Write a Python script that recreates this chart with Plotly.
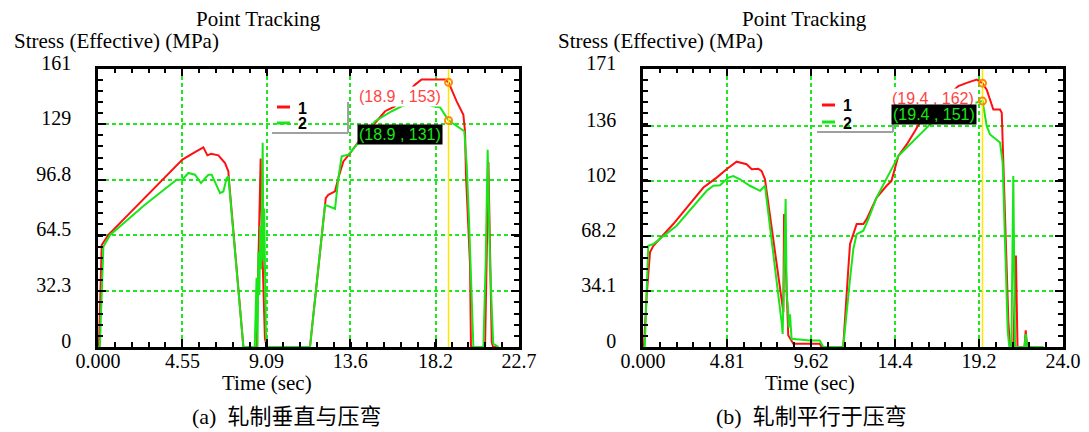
import plotly.graph_objects as go

# ---------------- data ----------------
# Panel (a): rolling direction perpendicular to bending
T_A1 = [0, 0.05, 0.2, 0.56, 1.5, 3.0, 4.0, 4.55, 5.23, 5.68, 5.9, 6.1, 6.49, 6.85, 7.03, 7.06,
        7.84, 8.55, 8.77, 8.85, 9.0, 9.1, 11.43, 12.28, 12.42, 12.78, 12.96, 13.23, 13.59,
        14.13, 14.94, 15.48, 16.0, 16.5, 17.1, 17.45, 18.71, 18.9, 19.07, 19.34, 19.7, 19.79,
        19.84, 20.06, 20.11, 20.87, 21.05, 21.23, 21.3, 21.5]
S_A1 = [0, 0, 59, 64.8, 75.1, 91.5, 102.2, 108.3, 112.7, 115.4, 110.8, 111.7, 110.8, 106.3, 101.5, 96.7,
        0, 0, 109, 60, 5, 0, 0, 86.1, 88, 90, 97.7, 107.3, 112,
        119.9, 129.5, 136.3, 139.1, 145, 151.7, 154.6, 154.6, 153, 148.8, 142, 134.3, 124.7,
        99.6, 47.5, 0, 0, 107, 3, 0, 0]

T_A2 = [0, 0.1, 0.29, 0.65, 2.53, 4.24, 4.55, 4.87, 5.23, 5.55, 5.95, 6.13, 6.58, 6.76, 6.94, 7.03,
        7.84, 8.45, 8.55, 8.6, 8.65, 8.7, 8.75, 8.8, 8.88, 8.92, 8.96, 9.0, 9.05, 9.1,
        11.43, 12.24, 12.5, 12.78, 12.96, 13.14, 13.5, 14.04, 14.94, 15.84, 16.37, 17.2, 18.08,
        18.44, 18.9, 19.25, 19.75, 19.88, 20.0, 20.24, 20.78, 20.9, 21.01, 21.14, 21.31, 21.6]
S_A2 = [0, 0, 58, 64.8, 82.2, 96.7, 96.7, 100.6, 99.6, 94.8, 99.6, 99.6, 89, 89.9, 97.7, 98.6,
        0, 0, 40, 0, 55, 30, 70, 45, 118, 50, 80, 30, 10, 0,
        0, 82.2, 81, 79.9, 97.7, 110.2, 111.2, 118, 130.5, 136.3, 139.1, 142, 139.1,
        138.6, 131, 128.5, 124.7, 105.4, 75, 0, 0, 47.5, 114, 47, 2, 0]

# Panel (b): rolling direction parallel to bending
T_B1 = [0, 0.05, 0.21, 0.4, 0.59, 1.73, 3.45, 4.21, 4.81, 5.35, 5.92, 6.21, 6.59, 6.78, 6.97,
        8.02, 8.06, 8.21, 8.3, 8.59, 10.1, 10.2, 11.44, 11.73, 11.83, 12.21, 12.59, 12.78,
        13.35, 13.92, 14.2, 14.59, 15.07, 15.54, 15.92, 17.0, 18.02, 18.5, 19.07, 19.4, 19.64,
        20.02, 20.4, 20.5, 20.55, 20.69, 20.88, 20.97, 21.16, 21.31, 21.4, 21.8, 21.87, 21.95, 22.87]
S_B1 = [0, 0, 31.6, 58.1, 62.2, 75.5, 97.9, 104, 109.5, 113.8, 112.2, 109.1, 109.5, 108, 103,
        21.4, 81.6, 31.6, 7.2, 2, 2, 0, 0, 47.9, 63.2, 75.5, 75.5, 78.5,
        91.8, 99, 102, 117.3, 124.4, 132.6, 139.7, 150, 160.2, 162.2, 164.2, 162, 158,
        145.8, 145.8, 143.8, 125.5, 72.4, 15.3, 0, 0, 56.1, 0, 0, 10.2, 0, 0]

T_B2 = [0, 0.1, 0.3, 0.59, 1.92, 3.64, 4.02, 4.4, 4.88, 5.16, 5.54, 6.11, 6.69, 6.97,
        7.92, 7.98, 8.15, 8.21, 8.28, 8.33, 8.4, 8.49, 9.54, 10.1, 10.3, 11.44, 11.83, 12.02,
        12.21, 12.59, 12.88, 13.35, 14.3, 14.59, 15.16, 15.64, 16.5, 17.8, 19.0, 19.4, 19.45,
        19.64, 19.83, 20.4, 20.55, 20.69, 20.84, 20.93, 21.05, 21.16, 21.26, 21.8, 21.87, 21.95, 22.87]
S_B2 = [0, 0, 62.2, 63.2, 74.5, 95.9, 99, 99.3, 104, 105, 103, 99, 95.9, 99,
        15.3, 8, 90.8, 31.6, 25, 12, 20, 5, 4, 4, 0, 0, 41.8, 60.2,
        69.3, 71.4, 78.5, 91.8, 111.2, 117.3, 123.4, 128.5, 137.7, 145, 150, 151, 147.9,
        135.7, 130.5, 125.5, 113.2, 66, 10, 0, 0, 105, 0, 0, 8, 0, 0]

# tracking cursor
TRACK_A = 18.9
TRACK_A_VALS = [153, 131]
TRACK_B = 19.4
TRACK_B_VALS = [162, 151]

# axis ticks
X_TICKS_A = [0, 4.55, 9.09, 13.6, 18.2, 22.7]
X_LABELS_A = ["0.000", "4.55", "9.09", "13.6", "18.2", "22.7"]
Y_TICKS_A = [0, 32.3, 64.5, 96.8, 129, 161]
Y_LABELS_A = ["0", "32.3", "64.5", "96.8", "129", "161"]
X_TICKS_B = [0, 4.81, 9.62, 14.4, 19.2, 24.0]
X_LABELS_B = ["0.000", "4.81", "9.62", "14.4", "19.2", "24.0"]
Y_TICKS_B = [0, 34.1, 68.2, 102, 136, 171]
Y_LABELS_B = ["0", "34.1", "68.2", "102", "136", "171"]

SERIES_NAMES = ["1", "2"]
TITLE = "Point Tracking"
Y_TITLE = "Stress (Effective) (MPa)"
X_TITLE = "Time (sec)"
CAPTION_A = "(a)  轧制垂直与压弯"
CAPTION_B = "(b)  轧制平行于压弯"

# ---------------- styling ----------------
W, H = 1089, 432
RED = "#ff1010"
GREEN = "#19e619"
GRID = "#22e622"
SERIF = "Liberation Serif, Times New Roman, serif"
SANS = "Liberation Sans, Arial, sans-serif"


def px_x(p):
    return p / W


def px_y(p):
    return 1 - p / H


Y_DOM = [px_y(347), px_y(68.5)]
X_DOM_A = [px_x(98), px_x(519)]
X_DOM_B = [px_x(643), px_x(1063)]

fig = go.Figure()

panels = [
    ("x", "y", T_A1, S_A1, T_A2, S_A2),
    ("x2", "y2", T_B1, S_B1, T_B2, S_B2),
]
for xa, ya, t1, s1, t2, s2 in panels:
    fig.add_trace(go.Scatter(x=t1, y=s1, mode="lines", name=SERIES_NAMES[0], showlegend=False,
                             line=dict(color=RED, width=2), xaxis=xa, yaxis=ya))
    fig.add_trace(go.Scatter(x=t2, y=s2, mode="lines", name=SERIES_NAMES[1], showlegend=False,
                             line=dict(color=GREEN, width=2), xaxis=xa, yaxis=ya))

for xa, ya, tt, vals in [("x", "y", TRACK_A, TRACK_A_VALS), ("x2", "y2", TRACK_B, TRACK_B_VALS)]:
    fig.add_trace(go.Scatter(x=[tt, tt], y=[0, 1000], mode="lines", showlegend=False,
                             line=dict(color="#ffe600", width=1.5), xaxis=xa, yaxis=ya))
    fig.add_trace(go.Scatter(x=[tt] * len(vals), y=vals, mode="markers", showlegend=False,
                             marker=dict(symbol="circle-open", size=7, color="#ff8c00",
                                         line=dict(width=2, color="#ff8c00")),
                             xaxis=xa, yaxis=ya))


def xaxis(rng, tv, tt, dom, anchor, ndiv):
    return dict(range=rng, domain=dom, anchor=anchor, tickmode="array", tickvals=tv, ticktext=tt,
                automargin=False,
                showline=True, linecolor="black", linewidth=2.5, mirror="allticks",
                ticks="inside", ticklen=8, tickwidth=1.5, tickcolor="black",
                showgrid=True, gridcolor=GRID, gridwidth=1.6, griddash="4px,3px", zeroline=False,
                minor=dict(tickmode="linear", tick0=0, dtick=(rng[1] - rng[0]) / ndiv,
                           ticks="inside", ticklen=5, tickwidth=1.5, tickcolor="black", showgrid=False),
                tickfont=dict(family=SERIF, size=20, color="black"), ticklabelstandoff=-6)


def yaxis(rng, tv, tt, dom, anchor, ndiv):
    d = xaxis(rng, tv, tt, dom, anchor, ndiv)
    d["ticklabelstandoff"] = 20
    d["ticklabelshift"] = -6
    return d


fig.update_layout(
    width=W, height=H, margin=dict(l=0, r=0, t=0, b=0, autoexpand=False), autosize=False,
    paper_bgcolor="white", plot_bgcolor="white", showlegend=False,
    xaxis=xaxis([0, X_TICKS_A[-1]], X_TICKS_A, X_LABELS_A, X_DOM_A, "y", 25),
    yaxis=yaxis([0, Y_TICKS_A[-1]], Y_TICKS_A, Y_LABELS_A, Y_DOM, "x", 25),
    xaxis2=xaxis([0, X_TICKS_B[-1]], X_TICKS_B, X_LABELS_B, X_DOM_B, "y2", 25),
    yaxis2=yaxis([0, Y_TICKS_B[-1]], Y_TICKS_B, Y_LABELS_B, Y_DOM, "x2", 25),
)


def paper_text(xp, yp, text, font, xanchor="center"):
    fig.add_annotation(x=px_x(xp), y=px_y(yp), xref="paper", yref="paper", showarrow=False,
                       xanchor=xanchor, yanchor="middle", text=text, font=font)


# legend: short coloured dash + bold label, with the grey drop-shadow edge
LEGEND_POS = [(277, 107, 123, 272, 348, 133, 102), (822, 105, 122, 817, 893, 132, 103)]
for (lx, y1, y2, sx0, sx1, syb, syt) in LEGEND_POS:
    for yy, col, name in [(y1, RED, SERIES_NAMES[0]), (y2, GREEN, SERIES_NAMES[1])]:
        fig.add_shape(type="line", xref="paper", yref="paper", x0=px_x(lx), x1=px_x(lx + 13),
                      y0=px_y(yy), y1=px_y(yy), line=dict(color=col, width=3))
        paper_text(lx + 25, yy + 1, name, dict(family=SANS, size=16, color="black", weight="bold"))
    fig.add_shape(type="line", xref="paper", yref="paper", x0=px_x(sx0), x1=px_x(sx1),
                  y0=px_y(syb), y1=px_y(syb), line=dict(color="#a0a0a0", width=2))
    fig.add_shape(type="line", xref="paper", yref="paper", x0=px_x(sx1), x1=px_x(sx1),
                  y0=px_y(syb), y1=px_y(syt), line=dict(color="#a0a0a0", width=2))

# cursor value labels
for xa, ya, tt, vals, pos in [("x", "y", TRACK_A, TRACK_A_VALS, [(16.28, 144.8), (16.28, 122.7)]),
                              ("x2", "y2", TRACK_B, TRACK_B_VALS, [(16.57, 152.4), (16.63, 142.6)])]:
    fig.add_annotation(x=pos[0][0], y=pos[0][1], xref=xa, yref=ya, showarrow=False,
                       text=f"({tt} , {vals[0]})", bgcolor="white", borderpad=1,
                       font=dict(family=SANS, size=16, color="#ff4444"))
    fig.add_annotation(x=pos[1][0], y=pos[1][1], xref=xa, yref=ya, showarrow=False,
                       text=f"({tt} , {vals[1]})", bgcolor="black", borderpad=1,
                       font=dict(family=SANS, size=16, color=GREEN))

# titles & captions
for cx_title, x_ylab, cx_time, cx_cap, cap in [(258, 12, 267, 286, CAPTION_A), (804, 556, 810, 811, CAPTION_B)]:
    paper_text(cx_title, 19, TITLE, dict(family=SERIF, size=21, color="black"))
    paper_text(x_ylab, 41, Y_TITLE, dict(family=SERIF, size=21, color="black"), xanchor="left")
    paper_text(cx_time, 383, X_TITLE, dict(family=SERIF, size=21, color="black"))
    paper_text(cx_cap, 416, cap, dict(family="Liberation Serif, Noto Sans CJK SC", size=22, color="black"))

fig.write_html("out.html", config={"displayModeBar": False},
               post_script="document.body.style.margin='0';")
